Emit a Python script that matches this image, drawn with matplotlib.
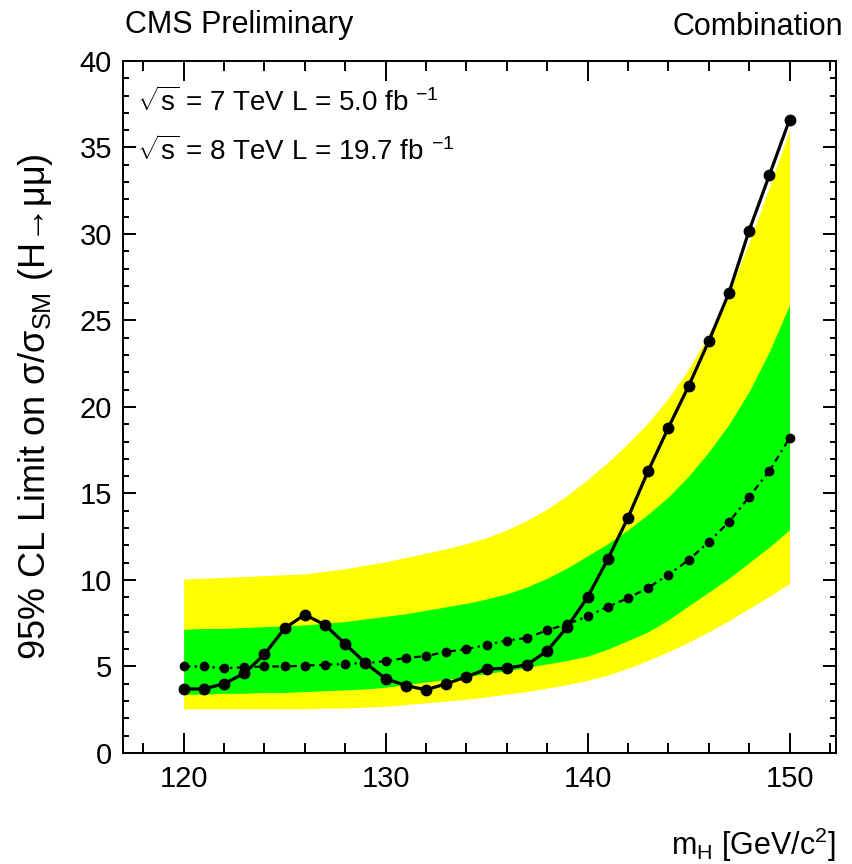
import numpy as np
import matplotlib
matplotlib.use("Agg")
import matplotlib.pyplot as plt
from matplotlib.ticker import MultipleLocator

plt.rcParams['font.family'] = ['Liberation Sans', 'DejaVu Sans']
plt.rcParams['mathtext.fontset'] = 'custom'
plt.rcParams['mathtext.rm'] = 'Liberation Sans'
plt.rcParams['mathtext.it'] = 'Liberation Sans'
plt.rcParams['mathtext.sf'] = 'Liberation Sans'

# Higgs mass points (GeV)
mass = np.arange(120, 151)

# observed 95% CL limit
observed = [3.7, 3.7, 4.0, 4.6, 5.7, 7.2, 8.0, 7.4, 6.3, 5.2, 4.3,
            3.9, 3.65, 4.0, 4.4, 4.85, 4.9, 5.1, 5.9, 7.3, 9.0,
            11.2, 13.6, 16.3, 18.8, 21.2, 23.8, 26.6, 30.2, 33.4, 36.6]

# median expected limit
expected = [5.0, 5.0, 4.9, 4.95, 5.0, 5.0, 5.05, 5.1, 5.15, 5.2, 5.3,
            5.5, 5.6, 5.85, 6.0, 6.25, 6.5, 6.65, 7.1, 7.45, 7.9,
            8.45, 8.95, 9.55, 10.3, 11.15, 12.2, 13.35, 14.8, 16.3, 18.2]

# +-1 sigma band
band68_lo = [3.4, 3.4, 3.45, 3.45, 3.5, 3.5, 3.55, 3.6, 3.65, 3.7, 3.8,
             3.95, 4.1, 4.25, 4.4, 4.6, 4.75, 4.95, 5.15, 5.35, 5.6,
             6.0, 6.5, 7.0, 7.7, 8.5, 9.3, 10.1, 11.0, 11.9, 12.9]
band68_hi = [7.15, 7.2, 7.2, 7.25, 7.3, 7.35, 7.4, 7.5, 7.6, 7.75, 7.9,
             8.05, 8.25, 8.45, 8.65, 8.9, 9.2, 9.6, 10.1, 10.7, 11.4,
             12.1, 12.9, 13.8, 14.8, 16.0, 17.4, 19.0, 20.9, 23.2, 25.9]

# +-2 sigma band
band95_lo = [2.55, 2.55, 2.55, 2.55, 2.55, 2.55, 2.55, 2.6, 2.6, 2.65, 2.7,
             2.8, 2.9, 3.0, 3.1, 3.25, 3.4, 3.55, 3.75, 3.95, 4.2,
             4.5, 4.9, 5.35, 5.85, 6.4, 7.0, 7.65, 8.35, 9.05, 9.8]
band95_hi = [10.05, 10.1, 10.15, 10.2, 10.25, 10.3, 10.35, 10.5, 10.65, 10.85, 11.05,
             11.3, 11.55, 11.8, 12.1, 12.45, 12.9, 13.45, 14.1, 14.9, 15.8,
             16.8, 17.9, 19.1, 20.5, 22.2, 24.2, 26.6, 29.5, 32.7, 36.0]

fig = plt.figure(figsize=(8.52, 8.64), dpi=100)
ax = fig.add_axes([0.1444, 0.1285, 0.8368, 0.8009])

ax.fill_between(mass, band95_lo, band95_hi, color='#ffff00', lw=0, zorder=1)
ax.fill_between(mass, band68_lo, band68_hi, color='#00ff00', lw=0, zorder=2)

ax.plot(mass, expected, color='black', lw=1.6, ls=(0, (3, 2, 1, 2)),
        marker='o', ms=6, zorder=3)
ax.plot(mass, observed, color='black', lw=2.3, ls='-',
        marker='o', ms=7.5, zorder=4)

ax.set_xlim(117.0, 152.3)
ax.set_ylim(0, 40)

ax.xaxis.set_major_locator(MultipleLocator(10))
ax.xaxis.set_minor_locator(MultipleLocator(2))
ax.yaxis.set_major_locator(MultipleLocator(5))
ax.yaxis.set_minor_locator(MultipleLocator(1))

ax.tick_params(which='both', direction='in', top=True, right=True,
               width=1.4, labelsize=21)
ax.tick_params(axis='x', which='major', length=14.4, pad=9)
ax.tick_params(axis='x', which='minor', length=7.2)
ax.tick_params(axis='y', which='major', length=9.5, pad=8)
ax.tick_params(axis='y', which='minor', length=4.5)
for s in ax.spines.values():
    s.set_linewidth(1.4)

ax.set_ylabel('95% CL Limit on σ/σ$_{SM}$ (H→μμ)', fontsize=26)
ax.yaxis.set_label_coords(-0.095, 0.5)
ax.set_xlabel(r'm$_{H}$ [GeV/c$^{2}$]', fontsize=22, ha='right')
ax.xaxis.set_label_coords(1.0, -0.105)

fig.text(0.147, 0.971, 'CMS Preliminary', fontsize=22, va='center', ha='left')
fig.text(0.99, 0.969, 'Combination', fontsize=22, va='center', ha='right')

ax.text(0.02, 0.94, r'$\sqrt{s}$ = 7 TeV L = 5.0 fb $^{-1}$', transform=ax.transAxes,
        fontsize=20, va='center', ha='left')
ax.text(0.02, 0.87, r'$\sqrt{s}$ = 8 TeV L = 19.7 fb $^{-1}$', transform=ax.transAxes,
        fontsize=20, va='center', ha='left')

fig.savefig('out.png', dpi=100)
